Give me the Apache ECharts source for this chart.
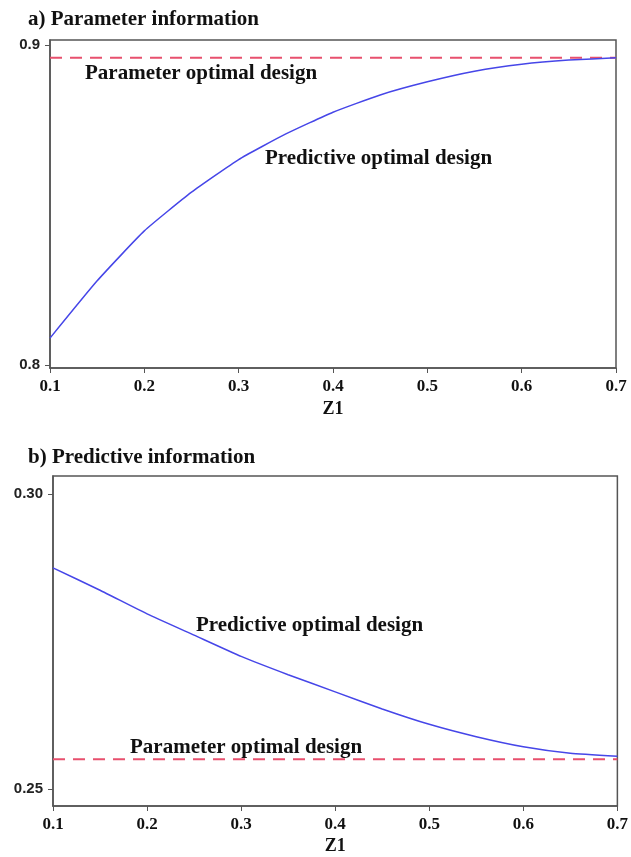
<!DOCTYPE html>
<html>
<head>
<meta charset="utf-8">
<script src="https://cdn.jsdelivr.net/npm/echarts@6/dist/echarts.min.js"></script>
<style>html,body{margin:0;padding:0;background:#fff}#c{width:631px;height:857px}</style>
</head>
<body>
<div id="c"></div>
<script>
// ---- data ----
var z1 = [0.1, 0.15, 0.2, 0.25, 0.3, 0.35, 0.4, 0.45, 0.5, 0.55, 0.6, 0.65, 0.7];
var paramInfoPredictive = [0.8084, 0.8263, 0.8419, 0.8540, 0.8642, 0.8722, 0.8790, 0.8844, 0.8885, 0.8918, 0.8940, 0.8953, 0.8960];
var paramInfoParameter = 0.8960;
var predInfoPredictive = [0.2875, 0.2837, 0.2797, 0.2761, 0.2725, 0.2694, 0.2665, 0.2636, 0.2610, 0.2589, 0.2572, 0.2561, 0.2556];
var predInfoParameter = 0.2551;
var xTicks = [0.1, 0.2, 0.3, 0.4, 0.5, 0.6, 0.7];
var yTicksA = [0.8, 0.9];
var yTicksB = [0.25, 0.30];
var titleA = 'a) Parameter information';
var titleB = 'b) Predictive information';
var labelParam = 'Parameter optimal design';
var labelPred = 'Predictive optimal design';
var xName = 'Z1';

function pairs(xs, ys) { return xs.map(function (x, i) { return [x, ys[i]]; }); }
function flat(xs, v) { return [[xs[0], v], [xs[xs.length - 1], v]]; }

var serif = 'Liberation Serif';
var sans = 'Liberation Sans';
var axisColor = '#555';

function xAxis(idx, nameGap) {
  return {
    type: 'value', gridIndex: idx, min: 0.1, max: 0.7,
    name: xName, nameLocation: 'middle', nameGap: nameGap,
    nameTextStyle: { fontFamily: serif, fontWeight: 'bold', fontSize: 18, color: '#111' },
    axisLine: { show: true, lineStyle: { color: axisColor, width: 1.5 } },
    axisTick: { show: true, length: 5, customValues: xTicks, lineStyle: { color: axisColor } },
    axisLabel: { customValues: xTicks, margin: 10, fontFamily: serif, fontWeight: 'bold', fontSize: 17, color: '#111',
      formatter: function (v) { return v.toFixed(1); } },
    splitLine: { show: false }
  };
}
function yAxis(idx, min, max, ticks, dec) {
  return {
    type: 'value', gridIndex: idx, min: min, max: max,
    axisLine: { show: true, lineStyle: { color: axisColor, width: 1.5 } },
    axisTick: { show: true, length: 5, customValues: ticks, lineStyle: { color: axisColor } },
    axisLabel: { customValues: ticks, margin: 10, fontFamily: sans, fontWeight: 'bold', fontSize: 15, color: '#222',
      formatter: function (v) { return v.toFixed(dec); } },
    splitLine: { show: false }
  };
}

var chart = echarts.init(document.getElementById('c'), null, { renderer: 'canvas' });
chart.setOption({
  animation: false,
  backgroundColor: '#fff',
  title: [
    { text: titleA, left: 23, top: 4, textStyle: { fontFamily: serif, fontWeight: 'bold', fontSize: 21, color: '#111' } },
    { text: titleB, left: 23, top: 442, textStyle: { fontFamily: serif, fontWeight: 'bold', fontSize: 21, color: '#111' } }
  ],
  grid: [
    { left: 50, right: 15, top: 40, height: 328, show: true, borderColor: axisColor, borderWidth: 1.5 },
    { left: 53, right: 10, top: 476, height: 330, show: true, borderColor: axisColor, borderWidth: 1.5 }
  ],
  xAxis: [xAxis(0, 32), xAxis(1, 31)],
  yAxis: [yAxis(0, 0.79906, 0.90156, yTicksA, 1), yAxis(1, 0.24717, 0.30305, yTicksB, 2)],
  series: [
    { type: 'line', xAxisIndex: 0, yAxisIndex: 0, data: flat(z1, paramInfoParameter), symbol: 'none',
      lineStyle: { color: '#e8506e', width: 2, type: [12, 8] } },
    { type: 'line', xAxisIndex: 0, yAxisIndex: 0, data: pairs(z1, paramInfoPredictive), symbol: 'none', smooth: 0.15,
      lineStyle: { color: '#4646e8', width: 1.5 } },
    { type: 'line', xAxisIndex: 1, yAxisIndex: 1, data: flat(z1, predInfoParameter), symbol: 'none',
      lineStyle: { color: '#e8506e', width: 2, type: [12, 8] } },
    { type: 'line', xAxisIndex: 1, yAxisIndex: 1, data: pairs(z1, predInfoPredictive), symbol: 'none', smooth: 0.15,
      lineStyle: { color: '#4646e8', width: 1.5 } }
  ],
  graphic: [
    { type: 'text', left: 85, top: 63, style: { text: labelParam, font: 'bold 21px "Liberation Serif"', fill: '#111' } },
    { type: 'text', left: 265, top: 148, style: { text: labelPred, font: 'bold 21px "Liberation Serif"', fill: '#111' } },
    { type: 'text', left: 196, top: 615, style: { text: labelPred, font: 'bold 21px "Liberation Serif"', fill: '#111' } },
    { type: 'text', left: 130, top: 737, style: { text: labelParam, font: 'bold 21px "Liberation Serif"', fill: '#111' } }
  ]
});
</script>
</body>
</html>
